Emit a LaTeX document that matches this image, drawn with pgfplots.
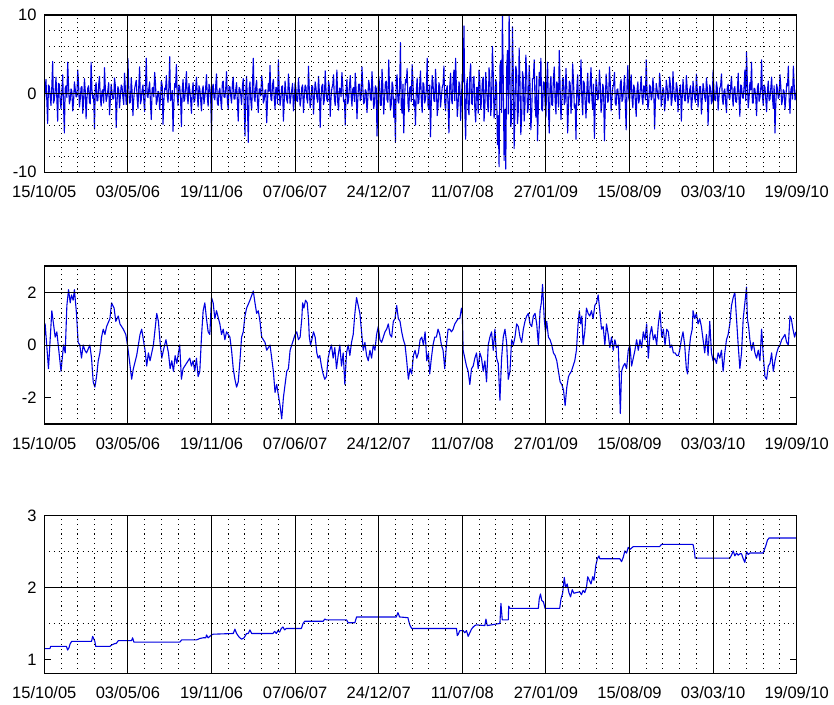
\documentclass[border=0pt]{standalone}
\usepackage{pgfplots}
\pgfplotsset{compat=1.18}
\usepackage{fontspec}
\setmainfont{Liberation Sans}

\pgfplotsset{
 mstyle/.style={
  scale only axis, width=752.4pt, anchor=south west,
  xmin=0, xmax=1800, xtick={0,200,...,1800},
  xticklabels={15/10/05,03/05/06,19/11/06,07/06/07,24/12/07,11/07/08,27/01/09,15/08/09,03/03/10,19/09/10},
  minor x tick num=4,
  grid=both,
  major grid style={black, line width=0.85pt},
  minor grid style={black, line width=1pt, dash pattern=on 1.1pt off 3.7pt},
  axis line style={black, line width=1.1pt},
  tick align=inside, major tick length=7pt, minor tick length=0pt,
  tick style={black, line width=0.85pt},
  ticklabel style={font=\fontsize{16.5}{18}\selectfont},
  xticklabel style={anchor=north, inner sep=0pt, yshift=-13pt},
  yticklabel style={anchor=east, inner sep=0pt, xshift=-7.5pt},
  extra y tick style={grid=none},
  axis on top, clip=true, no markers
 },
 dline/.style={color={rgb,255:red,0;green,0;blue,225}, line width=1.1pt, mark=none, line join=round}
}

\begin{document}
\begin{tikzpicture}
\useasboundingbox (0,0) rectangle (834pt,704pt);

% ---------- panel 1 ----------
\begin{axis}[mstyle, at={(44.3pt,531.7pt)}, height=157.3pt,
  ymin=-10, ymax=10, ytick={-10,0,10}, yticklabels={-10,0,10},
  minor ytick={-8,-6,-4,-2,2,4,6,8}]
\addplot[dline] coordinates {
(0,-1.2)(2,0.5)(4,1.8)(6,-0.8)(8,-3.8)(10,1.1)(12,0.9)(14,-0.3)(16,-1.5)(18,0.9)(20,4.1)(22,-1.2)(24,-0.8)(26,0.4)(28,2.1)(30,-0.6)(32,-3.5)(34,1.3)(36,1.2)(38,-0.9)(40,-1.9)(42,0.2)(44,2.4)(46,-1.4)(48,-5.0)(50,0.7)(52,1.0)(54,-0.5)(56,4.0)(58,1.0)(60,-1.3)(62,-0.8)(64,0.6)(66,0.3)(68,-2.2)(70,-1.1)(72,1.5)(74,0.6)(76,-0.4)(78,-0.4)(80,3.0)(82,1.2)(84,-1.7)(86,-0.7)(88,0.8)(90,0.9)(92,-2.5)(94,-1.0)(96,1.9)(98,0.4)
(100,-3.2)(102,-0.6)(104,0.7)(106,1.0)(108,-1.1)(110,-1.3)(112,4.0)(114,0.5)(116,-0.6)(118,-0.2)(120,-4.5)(122,0.8)(124,1.4)(126,-0.9)(128,-0.9)(130,1.1)(132,2.2)(134,-0.5)(136,-1.6)(138,0.3)(140,0.5)(142,-1.2)(144,3.3)(146,0.7)(148,-1.0)(150,-0.4)(152,0.4)(154,1.4)(156,-2.7)(158,-0.8)(160,1.2)(162,0.2)(164,-0.7)(166,-0.6)(168,2.0)(170,1.0)(172,-4.3)(174,-1.1)(176,0.9)(178,0.5)(180,-1.8)(182,-0.3)(184,1.1)(186,0.9)(188,-0.5)(190,-1.4)(192,2.6)(194,0.6)(196,-1.4)(198,-0.2)
(200,4.5)(202,0.8)(204,-1.2)(206,-1.1)(208,2.0)(210,0.3)(212,-2.8)(214,-0.7)(216,0.6)(218,1.2)(220,1.7)(222,-0.5)(224,-1.9)(226,0.9)(228,3.4)(230,-1.3)(232,-0.8)(234,0.4)(236,1.1)(238,-0.8)(240,-2.3)(242,1.0)(244,4.5)(246,-0.3)(248,-0.5)(250,0.6)(252,1.5)(254,-1.2)(256,-3.3)(258,0.7)(260,0.8)(262,-0.4)(264,2.7)(266,1.3)(268,-1.4)(270,-0.9)(272,0.3)(274,0.2)(276,-2.0)(278,-0.6)(280,1.6)(282,1.1)(284,-3.9)(286,-1.0)(288,0.7)(290,0.5)(292,2.3)(294,-0.3)(296,-1.1)(298,0.8)
(300,4.7)(302,-0.9)(304,-0.6)(306,0.4)(308,-4.8)(310,-1.2)(312,1.3)(314,0.8)(316,3.7)(318,-0.3)(320,-1.5)(322,1.1)(324,0.9)(326,-0.6)(328,-4.2)(330,0.5)(332,1.8)(334,-1.0)(336,-0.7)(338,0.9)(340,2.8)(342,-0.4)(344,-1.3)(346,1.3)(348,0.5)(350,-0.7)(352,-2.5)(354,0.3)(356,1.4)(358,-1.1)(360,-0.9)(362,0.6)(364,2.1)(366,-0.2)(368,-1.7)(370,1.0)(372,0.6)(374,-0.8)(376,-2.2)(378,0.4)(380,1.0)(382,-1.3)(384,-0.4)(386,0.7)(388,2.4)(390,-0.5)(392,-1.6)(394,1.2)(396,0.8)(398,-0.6)
(400,-4.7)(402,0.7)(404,1.2)(406,-0.5)(408,-0.8)(410,1.0)(412,2.5)(414,-1.2)(416,-1.5)(418,0.3)(420,0.7)(422,-0.8)(424,-2.0)(426,1.4)(428,1.6)(430,-0.4)(432,-0.5)(434,0.6)(436,2.8)(438,-1.0)(440,-1.9)(442,0.9)(444,0.9)(446,-0.3)(448,-1.2)(450,1.2)(452,2.1)(454,-0.7)(456,-0.7)(458,0.5)(460,1.4)(462,-1.1)(464,-3.5)(466,0.8)(468,0.6)(470,-0.2)(472,-1.4)(474,1.0)(476,1.9)(478,-0.9)(480,-5.4)(482,0.4)(484,2.2)(486,-1.5)(488,-6.2)(490,0.6)(492,1.5)(494,-0.8)(496,-2.1)(498,1.1)
(500,4.5)(502,-0.4)(504,-1.0)(506,0.9)(508,1.7)(510,-1.1)(512,-2.4)(514,0.6)(516,0.6)(518,-0.3)(520,2.3)(522,1.2)(524,-1.2)(526,-0.8)(528,0.4)(530,0.5)(532,-3.7)(534,-1.0)(536,1.3)(538,0.3)(540,3.6)(542,-0.7)(544,-0.9)(546,1.1)(548,1.8)(550,-0.5)(552,-2.0)(554,0.8)(556,0.7)(558,-1.3)(560,4.3)(562,0.4)(564,-1.5)(566,-0.6)(568,0.9)(570,1.0)(572,-3.5)(574,-0.9)(576,1.6)(578,0.2)(580,-0.8)(582,-1.2)(584,2.5)(586,0.7)(588,-1.3)(590,-0.4)(592,0.5)(594,1.3)(596,-2.2)(598,-0.8)
(600,1.4)(602,0.6)(604,-0.9)(606,-1.0)(608,2.0)(610,0.4)(612,-1.6)(614,-0.7)(616,0.8)(618,1.1)(620,-2.4)(622,-0.3)(624,1.1)(626,0.8)(628,-0.6)(630,-1.2)(632,3.5)(634,0.5)(636,-1.8)(638,-0.9)(640,0.9)(642,1.0)(644,-2.6)(646,-0.4)(648,1.5)(650,0.7)(652,-0.5)(654,-1.1)(656,2.2)(658,0.3)(660,-4.3)(662,-0.6)(664,1.0)(666,1.2)(668,-1.4)(670,-0.8)(672,2.9)(674,0.4)(676,-0.8)(678,-1.0)(680,1.6)(682,0.9)(684,-2.9)(686,-0.5)(688,0.7)(690,1.1)(692,2.4)(694,-0.7)(696,-1.5)(698,0.3)
(700,3.0)(702,-1.1)(704,-2.1)(706,0.7)(708,0.6)(710,-0.4)(712,2.7)(714,1.0)(716,-1.0)(718,-0.8)(720,-4.0)(722,0.5)(724,1.8)(726,-1.3)(728,-0.7)(730,0.9)(732,2.3)(734,-0.2)(736,-1.6)(738,0.6)(740,0.8)(742,-1.0)(744,2.6)(746,0.4)(748,-3.2)(750,-0.7)(752,1.2)(754,1.2)(756,-0.9)(758,-0.5)(760,3.4)(762,0.8)(764,-1.3)(766,-1.1)(768,0.5)(770,0.3)(772,-2.4)(774,-0.6)(776,1.7)(778,1.0)(780,-0.6)(782,-0.9)(784,2.8)(786,0.5)(788,-1.9)(790,-1.2)(792,1.0)(794,0.7)(796,-5.4)(798,-0.4)
(800,2.2)(802,1.2)(804,-1.5)(806,-1.5)(808,3.1)(810,0.8)(812,-2.6)(814,-0.6)(816,1.4)(818,1.6)(820,-0.8)(822,-1.1)(824,4.3)(826,0.5)(828,-2.1)(830,-1.4)(832,1.5)(834,1.0)(836,-3.0)(838,-0.7)(840,-6.2)(842,1.8)(844,2.4)(846,-0.9)(848,-1.2)(850,0.6)(852,6.5)(854,-1.6)(856,-2.5)(858,1.2)(860,-5.0)(862,-0.5)(864,1.8)(866,1.4)(868,3.2)(870,-1.2)(872,-2.3)(874,0.7)(876,0.9)(878,-1.0)(880,3.7)(882,1.5)(884,-1.6)(886,-0.8)(888,-4.0)(890,0.4)(892,2.0)(894,-1.3)(896,-1.1)(898,1.1)
(900,2.9)(902,-0.8)(904,-2.4)(906,1.4)(908,1.2)(910,-1.2)(912,-0.7)(914,0.6)(916,4.5)(918,-1.5)(920,-2.0)(922,1.1)(924,-5.5)(926,-0.5)(928,2.3)(930,1.3)(932,-0.9)(934,-1.0)(936,3.1)(938,0.7)(940,-2.8)(942,-1.6)(944,1.4)(946,0.9)(948,-1.7)(950,-0.4)(952,0.8)(954,1.2)(956,3.5)(958,-1.1)(960,-2.2)(962,0.5)(964,1.0)(966,-1.4)(968,-5.0)(970,1.0)(972,2.6)(974,-0.7)(976,-1.3)(978,1.6)(980,3.0)(982,-0.9)(984,4.5)(986,0.5)(988,-2.9)(990,-1.3)(992,1.5)(994,1.1)(996,-3.4)(998,-0.6)
(1000,2.5)(1002,1.5)(1004,8.6)(1006,-2.2)(1008,-5.8)(1010,1.0)(1012,1.9)(1014,-1.8)(1016,-2.7)(1018,2.4)(1020,3.8)(1022,-1.2)(1024,-1.4)(1026,1.7)(1028,2.2)(1030,-2.0)(1032,-3.6)(1034,0.8)(1036,0.8)(1038,-2.5)(1040,3.0)(1042,1.4)(1044,-2.0)(1046,-1.0)(1048,1.6)(1050,2.1)(1052,-3.5)(1054,-1.6)(1056,2.7)(1058,0.9)(1060,-1.2)(1062,-2.3)(1064,3.3)(1066,1.8)(1068,-2.8)(1070,-1.1)(1072,6.0)(1074,2.6)(1076,-3.1)(1078,-1.9)(1080,1.8)(1082,1.2)(1084,-6.5)(1086,-2.8)(1088,-9.3)(1090,3.5)(1092,4.2)(1094,-2.4)(1096,10.3)(1098,1.6)
(1100,-8.5)(1102,-2.0)(1104,-9.6)(1106,3.0)(1108,5.5)(1110,-2.6)(1112,10.3)(1114,1.8)(1116,-4.2)(1118,-3.2)(1120,8.5)(1122,2.4)(1124,-7.0)(1126,-1.5)(1128,3.5)(1130,2.8)(1132,-3.8)(1134,-2.2)(1136,5.8)(1138,1.4)(1140,-5.2)(1142,-2.9)(1144,2.8)(1146,2.0)(1148,-3.5)(1150,-1.3)(1152,4.9)(1154,2.5)(1156,-2.4)(1158,-1.8)(1160,3.6)(1162,1.1)(1164,-4.6)(1166,-2.4)(1168,1.9)(1170,1.9)(1172,4.3)(1174,-1.2)(1176,-3.0)(1178,2.2)(1180,-6.0)(1182,-1.7)(1184,2.7)(1186,1.0)(1188,4.5)(1190,-2.0)(1192,-2.2)(1194,1.5)(1196,1.4)(1198,-1.1)
(1200,-3.0)(1202,1.3)(1204,4.0)(1206,-1.9)(1208,-5.0)(1210,1.0)(1212,2.2)(1214,-1.4)(1216,-1.5)(1218,2.0)(1220,3.4)(1222,-0.8)(1224,-2.6)(1226,1.5)(1228,1.1)(1230,-1.7)(1232,5.5)(1234,0.7)(1236,-3.3)(1238,-1.2)(1240,2.0)(1242,1.8)(1244,-1.4)(1246,-1.0)(1248,3.2)(1250,0.6)(1252,-5.0)(1254,-1.6)(1256,1.6)(1258,1.3)(1260,-2.5)(1262,-0.9)(1264,3.8)(1266,1.7)(1268,-1.8)(1270,-1.3)(1272,-5.8)(1274,0.8)(1276,2.4)(1278,-1.5)(1280,-0.9)(1282,1.1)(1284,4.3)(1286,-0.7)(1288,-2.7)(1290,1.6)(1292,1.3)(1294,-1.2)(1296,-3.1)(1298,0.5)
(1300,2.6)(1302,-1.0)(1304,-1.2)(1306,1.5)(1308,3.3)(1310,-0.7)(1312,-2.0)(1314,1.2)(1316,-5.7)(1318,-1.4)(1320,1.9)(1322,0.9)(1324,-0.8)(1326,-0.5)(1328,3.0)(1330,1.3)(1332,-2.4)(1334,-1.1)(1336,1.2)(1338,0.6)(1340,-6.0)(1342,-1.5)(1344,2.5)(1346,1.0)(1348,-1.1)(1350,-0.8)(1352,3.4)(1354,1.4)(1356,-2.2)(1358,-0.6)(1360,0.8)(1362,1.1)(1364,2.7)(1366,-1.2)(1368,-1.5)(1370,0.5)(1372,0.6)(1374,-0.9)(1376,-3.2)(1378,1.3)(1380,1.8)(1382,-1.0)(1384,-0.7)(1386,0.7)(1388,2.3)(1390,-1.3)(1392,-4.6)(1394,0.9)(1396,3.6)(1398,-0.5)
(1400,-1.0)(1402,0.8)(1404,2.4)(1406,-0.6)(1408,-1.8)(1410,1.1)(1412,0.7)(1414,-0.9)(1416,-2.9)(1418,0.4)(1420,1.5)(1422,-1.2)(1424,-0.6)(1426,0.7)(1428,2.2)(1430,-0.5)(1432,-1.4)(1434,1.0)(1436,0.9)(1438,-0.8)(1440,4.3)(1442,0.3)(1444,-2.0)(1446,-1.1)(1448,1.1)(1450,0.9)(1452,-0.8)(1454,-0.4)(1456,2.0)(1458,0.6)(1460,-4.5)(1462,-1.0)(1464,1.3)(1466,0.5)(1468,-0.5)(1470,-0.7)(1472,2.6)(1474,1.2)(1476,-1.6)(1478,-0.6)(1480,0.8)(1482,0.4)(1484,-2.2)(1486,-0.9)(1488,1.7)(1490,0.8)(1492,-0.9)(1494,-0.3)(1496,2.1)(1498,1.0)
(1500,-1.5)(1502,-0.7)(1504,2.8)(1506,0.5)(1508,-0.7)(1510,-1.0)(1512,1.4)(1514,0.8)(1516,-2.3)(1518,-0.4)(1520,0.6)(1522,1.1)(1524,-3.5)(1526,-0.6)(1528,1.8)(1530,0.3)(1532,-0.9)(1534,-0.9)(1536,2.3)(1538,0.7)(1540,-1.2)(1542,-0.5)(1544,0.5)(1546,1.0)(1548,-2.0)(1550,-0.8)(1552,1.6)(1554,0.4)(1556,-0.6)(1558,-1.1)(1560,2.5)(1562,0.6)(1564,-1.7)(1566,-0.3)(1568,0.9)(1570,0.9)(1572,-2.6)(1574,-0.7)(1576,1.3)(1578,0.5)(1580,-0.5)(1582,-1.0)(1584,2.0)(1586,0.8)(1588,-4.0)(1590,-0.4)(1592,1.1)(1594,0.6)(1596,-1.3)(1598,-0.9)
(1600,3.0)(1602,0.5)(1604,-0.8)(1606,-0.9)(1608,1.5)(1610,0.7)(1612,-2.1)(1614,-0.4)(1616,0.7)(1618,1.0)(1620,2.5)(1622,-0.6)(1624,-1.4)(1626,0.3)(1628,0.6)(1630,-1.1)(1632,-2.4)(1634,0.8)(1636,1.2)(1638,-0.5)(1640,-0.7)(1642,0.9)(1644,2.2)(1646,-0.3)(1648,-1.6)(1650,0.6)(1652,0.9)(1654,-1.0)(1656,-1.1)(1658,0.4)(1660,2.6)(1662,-0.7)(1664,-2.9)(1666,1.1)(1668,1.0)(1670,-0.5)(1672,-0.6)(1674,0.8)(1676,3.0)(1678,-0.9)(1680,5.3)(1682,1.3)(1684,-1.8)(1686,-0.6)(1688,1.4)(1690,0.5)(1692,4.0)(1694,-1.2)(1696,-1.2)(1698,0.7)
(1700,0.6)(1702,-0.5)(1704,-2.8)(1706,0.8)(1708,1.3)(1710,-1.0)(1712,-0.5)(1714,0.6)(1716,4.3)(1718,-0.3)(1720,-1.5)(1722,1.1)(1724,0.8)(1726,-0.7)(1728,-2.3)(1730,0.4)(1732,1.6)(1734,-0.9)(1736,-0.7)(1738,0.7)(1740,2.1)(1742,-0.5)(1744,-1.9)(1746,1.0)(1748,-5.0)(1750,-1.3)(1752,1.2)(1754,0.6)(1756,-0.6)(1758,-0.4)(1760,2.4)(1762,0.9)(1764,-1.4)(1766,-0.8)(1768,0.5)(1770,0.3)(1772,-2.0)(1774,-0.6)(1776,1.3)(1778,1.0)(1780,3.5)(1782,-0.9)(1784,-2.5)(1786,0.5)(1788,0.9)(1790,-0.7)(1792,3.5)(1794,1.1)(1796,-0.8)(1798,-0.4)(1800,0.7)
};
\end{axis}

% ---------- panel 2 ----------
\begin{axis}[mstyle, at={(44.3pt,280pt)}, height=158pt,
  ymin=-3, ymax=3, ytick={0,2}, yticklabels={0,2},
  extra y ticks={-2}, extra y tick labels={-2},
  minor ytick={-1,1}]
\addplot[dline] coordinates {
(0,0.3)(2,0.8)(10,-0.9)(18,1.3)(26,0.3)(30,0.5)(34,-0.1)(40,-1.0)(46,0.0)(50,-0.3)(54,1.5)(58,2.1)(62,1.6)(65,1.9)(69,1.7)(72,2.1)(77,1.2)(81,0.1)(85,0.0)(89,-0.5)(93,0.0)(97,-0.2)(101,-0.3)(109,0.0)(113,-0.5)(117,-1.4)(121,-1.6)(125,-1.2)(129,-0.6)(133,-0.3)(137,0.3)(141,0.6)(145,0.4)(149,0.7)(157,1.0)(161,1.6)(167,1.4)(171,0.9)(177,1.1)(181,0.8)(189,0.6)(195,0.4)(199,0.0)
(203,-0.5)(209,-1.3)(213,-0.9)(221,-0.4)(225,0.0)(229,0.4)(233,0.6)(237,0.2)(241,-0.2)(245,-0.8)(249,-0.3)(253,-0.6)(261,0.0)(269,1.2)(273,0.9)(277,0.1)(281,-0.5)(285,-0.2)(291,0.2)(297,-0.3)(301,-0.9)(305,-0.6)(309,-1.0)(313,-0.4)(317,-0.7)(324,0.0)(328,-1.3)(332,-0.9)(340,-0.7)(348,-0.5)(352,-0.8)(356,-0.6)(360,-1.0)(364,-0.5)(368,-1.2)(372,-1.0)(376,0.3)(380,1.3)(384,1.6)(388,1.0)(392,0.5)(396,0.4)
(400,1.8)(404,1.6)(408,1.0)(412,1.3)(420,0.8)(424,0.4)(428,0.6)(432,0.2)(436,0.5)(444,0.3)(448,-0.2)(452,-0.9)(456,-1.3)(460,-1.6)(464,-1.4)(468,-0.6)(472,0.3)(476,0.5)(480,1.1)(484,1.4)(492,1.7)(500,2.05)(504,1.6)(508,1.2)(512,1.3)(516,0.9)(520,0.3)(524,0.2)(528,0.1)(532,-0.2)(540,0.0)(548,-1.0)(552,-1.8)(556,-1.5)(560,-1.9)(564,-2.3)(568,-2.8)(572,-2.0)(576,-1.5)(580,-1.0)(584,-0.9)(588,-0.2)(592,0.0)
(600,0.4)(604,0.5)(608,0.2)(612,0.3)(616,1.0)(618,1.6)(621,1.4)(625,1.7)(629,1.6)(632,1.0)(634,0.3)(637,0.0)(640,0.2)(644,0.5)(648,0.3)(652,-0.3)(655,-0.5)(659,-0.4)(663,-0.8)(667,-1.1)(671,-1.3)(675,-1.2)(679,-0.5)(683,-0.2)(687,0.0)(691,-0.5)(695,-0.1)(699,-0.9)(703,-0.4)(707,0.0)(711,-0.8)(715,-0.3)(719,-1.5)(723,-0.3)(727,0.0)(731,-0.4)(735,0.1)(739,0.4)(743,1.2)(747,1.8)(751,1.5)(755,1.2)(759,0.5)(763,-0.2)(767,0.1)(771,-0.4)(775,-0.6)(779,-0.2)(783,-0.5)(787,0.0)(791,-0.2)(795,0.4)
(799,0.7)(803,0.2)(807,0.1)(811,0.3)(815,0.5)(819,0.6)(823,0.8)(827,0.4)(831,0.3)(835,0.9)(839,1.0)(843,1.5)(847,1.0)(851,0.9)(855,0.5)(859,0.2)(863,0.0)(867,-0.6)(871,-1.3)(875,-0.9)(879,-1.1)(883,-0.4)(887,-0.2)(891,-0.5)(895,-0.3)(899,0.2)(903,0.3)(907,0.0)(911,0.5)(915,-0.6)(919,-0.3)(922,-1.1)(926,-0.5)(930,0.0)(934,0.3)(938,0.3)(942,0.6)(946,0.4)(950,0.0)(954,-0.2)(958,-0.9)(962,0.0)(966,0.6)(970,0.6)(974,0.5)(978,0.6)(982,0.8)(986,0.9)(990,1.0)(994,1.0)(998,1.4)
(1000,1.2)(1002,-0.2)(1006,-0.5)(1010,-0.8)(1014,-1.0)(1018,-1.5)(1022,-0.9)(1026,-0.8)(1030,-0.5)(1034,-0.3)(1038,-0.9)(1042,-0.3)(1046,-0.5)(1050,-1.0)(1054,-0.6)(1058,-1.4)(1062,0.0)(1066,0.3)(1070,0.5)(1074,-0.2)(1078,0.6)(1082,-0.5)(1086,-0.7)(1090,-2.1)(1094,-0.5)(1098,0.3)(1102,0.6)(1106,0.1)(1110,-1.3)(1114,-1.0)(1118,0.2)(1122,0.0)(1126,0.3)(1130,0.8)(1134,0.7)(1138,0.3)(1142,0.1)(1146,0.6)(1150,0.9)(1154,1.1)(1158,1.2)(1162,0.8)(1166,0.7)(1170,1.1)(1174,1.2)(1178,0.8)(1182,0.0)(1186,1.3)(1189,1.6)(1192,2.3)(1196,1.0)(1199,0.5)
(1202,0.9)(1206,0.3)(1210,0.2)(1214,0.0)(1218,-0.3)(1222,-0.4)(1226,-0.6)(1230,-1.0)(1234,-1.4)(1238,-1.5)(1242,-1.7)(1246,-2.3)(1250,-1.6)(1254,-1.2)(1257,-1.1)(1261,-1.0)(1265,-0.8)(1269,-0.6)(1273,-0.2)(1277,0.8)(1280,1.3)(1283,0.8)(1286,1.1)(1289,0.0)(1293,0.5)(1297,1.4)(1301,1.2)(1305,1.1)(1309,1.3)(1313,1.0)(1317,1.5)(1321,1.6)(1325,1.9)(1329,1.3)(1333,0.6)(1337,0.7)(1341,0.0)(1345,0.8)(1349,0.4)(1353,-0.1)(1357,0.3)(1361,-0.2)(1365,0.2)(1369,-0.1)(1373,0.0)(1375,-0.9)(1378,-2.6)(1381,-1.0)(1385,-0.8)(1389,-0.7)(1393,-0.9)(1397,-0.2)
(1401,0.0)(1405,-0.8)(1409,-0.5)(1413,-0.2)(1417,0.2)(1421,-0.2)(1425,0.2)(1429,-0.1)(1433,0.5)(1437,0.2)(1441,0.8)(1445,-0.5)(1449,0.4)(1453,0.7)(1457,0.2)(1461,0.4)(1465,0.0)(1469,0.8)(1473,1.3)(1477,0.3)(1481,0.6)(1485,0.0)(1489,0.6)(1493,0.5)(1497,-0.1)(1501,0.0)(1505,-0.3)(1509,-0.3)(1513,-0.4)(1517,-0.4)(1520,-0.2)(1524,0.2)(1528,0.5)(1532,0.0)(1536,-0.9)(1539,-1.1)(1542,-0.3)(1546,0.3)(1550,0.6)(1552,1.3)(1556,1.0)(1560,1.2)(1564,0.8)(1568,1.0)(1572,0.7)(1576,0.2)(1580,-0.3)(1584,0.4)(1588,-0.4)(1592,0.9)(1596,-0.3)
(1600,-0.6)(1604,-0.5)(1608,-0.7)(1612,-0.3)(1616,-0.5)(1620,-0.2)(1624,-1.0)(1628,-0.3)(1632,0.2)(1636,0.4)(1640,0.8)(1644,1.5)(1648,1.8)(1652,2.0)(1656,1.0)(1660,0.0)(1664,-0.9)(1668,-0.3)(1672,1.0)(1676,1.6)(1680,2.2)(1682,1.0)(1685,0.7)(1688,0.2)(1692,-0.2)(1696,0.1)(1700,-0.3)(1704,-0.5)(1708,-0.2)(1712,-0.6)(1716,0.6)(1720,-0.4)(1724,-1.2)(1728,-1.3)(1732,-0.8)(1736,-0.7)(1740,-0.3)(1744,-1.0)(1748,-0.6)(1752,-0.3)(1756,-0.1)(1760,0.0)(1764,0.2)(1768,0.3)(1772,0.4)(1776,0.1)(1780,0.0)(1784,1.1)(1787,1.0)(1791,0.6)(1795,0.3)(1798,0.5)
};
\end{axis}

% ---------- panel 3 ----------
\begin{axis}[mstyle, at={(44.3pt,30.3pt)}, height=158pt,
  ymin=0.8, ymax=3, ytick={2,3}, yticklabels={2,3},
  extra y ticks={1}, extra y tick labels={1},
  minor ytick={1.5,2.5}]
\addplot[dline] coordinates {
(0,1.15)(13.6,1.15)(15.1,1.18)(53,1.18)(55.8,1.13)(59,1.16)(61.4,1.21)(65.4,1.25)(113,1.25)(115.6,1.32)(118.8,1.28)(121,1.25)(123,1.18)(157,1.18)(161,1.2)(169,1.22)(172,1.22)(177,1.26)(208.8,1.26)(211.2,1.3)(214.4,1.24)(324.4,1.24)(328.4,1.27)(364,1.27)(372,1.29)(380,1.30)(386.5,1.30)(388,1.34)(392,1.30)(400,1.34)(404,1.35)(452,1.36)(456,1.42)(460,1.36)(466,1.31)(472,1.28)(478,1.30)(484,1.36)(488,1.36)(492,1.41)(496,1.36)(504,1.36)(547,1.36)(551,1.39)(555,1.36)(559,1.40)(563,1.38)(567,1.43)(571,1.45)(575,1.41)(579,1.43)(615,1.43)(619,1.50)(623,1.53)(667,1.53)(671,1.56)(675,1.55)(723,1.55)(727,1.51)(743,1.51)(747,1.59)(842,1.59)(846,1.65)(850,1.59)(870,1.58)(871,1.55)(875,1.47)(879,1.43)
(986,1.43)(988,1.33)(990.4,1.35)(994,1.40)(1002,1.40)(1006,1.37)(1010,1.40)(1014,1.32)(1018,1.37)(1022,1.42)(1026,1.45)(1030,1.47)(1034,1.48)(1054,1.47)(1056.5,1.56)(1059.7,1.47)(1090,1.50)(1092.4,1.78)(1095.6,1.55)(1110,1.55)(1111,1.74)(1114,1.71)(1182,1.71)(1184,1.84)(1187,1.91)(1190,1.82)(1194,1.80)(1198,1.71)(1233,1.71)(1236,1.84)(1240,1.92)(1244,2.14)(1247,2.0)(1251,2.05)(1255,1.93)(1259,1.87)(1263,1.97)(1267,1.92)(1273,1.93)(1281,1.94)(1285,1.90)(1289,1.96)(1293,1.93)(1297,2.0)(1300,2.15)(1304,2.1)(1308,2.05)(1312,2.15)(1315,2.1)(1319.5,2.31)(1323,2.40)(1327,2.44)(1329,2.40)
(1377,2.40)(1381,2.36)(1385,2.42)(1389,2.51)(1393,2.48)(1397,2.56)(1401,2.53)(1409,2.57)(1472,2.57)(1476.5,2.60)(1552,2.60)(1555,2.51)(1557,2.41)(1640,2.41)(1644,2.45)(1648,2.51)(1652,2.44)(1656,2.48)(1660,2.45)(1664,2.47)(1668,2.47)(1672,2.40)(1676,2.35)(1680,2.50)(1684,2.46)(1688,2.48)(1720,2.48)(1722,2.52)(1726,2.58)(1730,2.66)(1734,2.69)(1800,2.69)
};
\end{axis}
\end{tikzpicture}
\end{document}
